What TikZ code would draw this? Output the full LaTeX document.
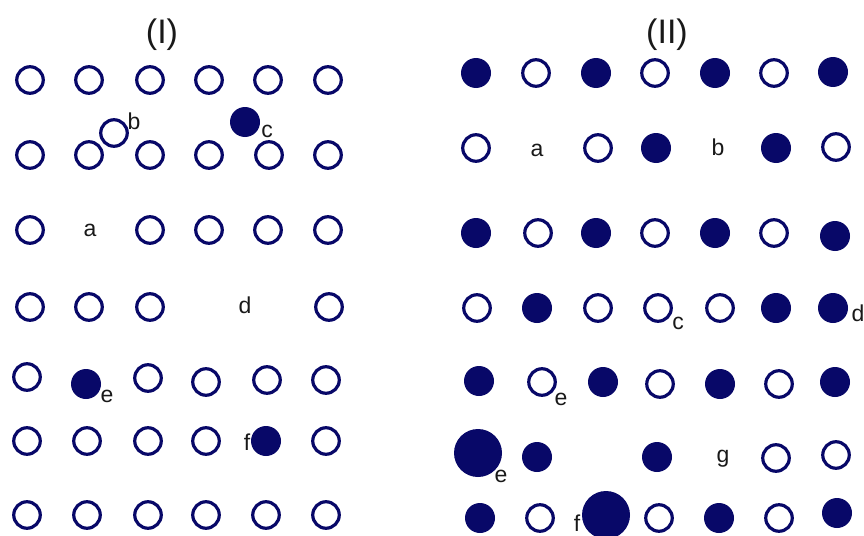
\documentclass[tikz,border=0pt]{standalone}
\usepackage{fontspec}
\setmainfont{Liberation Sans}
\definecolor{navy}{RGB}{8,8,104}
\begin{document}
\begin{tikzpicture}[x=1pt,y=-1pt,
  oc/.style={circle,draw=navy,line width=3.2pt,fill=white,inner sep=0pt,minimum size=26.5pt},
  fc/.style={circle,fill=navy,inner sep=0pt,minimum size=30pt},
  bigc/.style={circle,fill=navy,inner sep=0pt,minimum size=48pt},
  lbl/.style={inner sep=0pt,font=\fontsize{23}{23}\selectfont,text=black!90},
  ttl/.style={inner sep=0pt,font=\fontsize{34}{34}\selectfont,text=black!90}]
\useasboundingbox (0,0) rectangle (864,535);
\fill[white] (0,0) rectangle (864,535);
% ---------- Panel I ----------
\node[ttl] (t1) at (162,35) {(I)};
% row 1
\node[oc] (a11) at (30,80) {};
\node[oc] (a12) at (89,80) {};
\node[oc] (a13) at (150,80) {};
\node[oc] (a14) at (209,80) {};
\node[oc] (a15) at (268,80) {};
\node[oc] (a16) at (328,80) {};
% row 2
\node[oc] (a21) at (30,155) {};
\node[oc] (a22) at (89,155) {};
\node[oc] (a23) at (150,155) {};
\node[oc] (a24) at (209,155) {};
\node[oc] (a25) at (269,155) {};
\node[oc] (a26) at (328,155) {};
\node[oc] (ib) at (114,133) {};
\node[lbl] (lib) at (134,121) {b};
\node[fc] (ic) at (245,122) {};
\node[lbl] (lic) at (267,131) {c};
% row 3
\node[oc] (a31) at (30,230) {};
\node[lbl] (lia) at (90,230) {a};
\node[oc] (a33) at (150,230) {};
\node[oc] (a34) at (209,230) {};
\node[oc] (a35) at (268,230) {};
\node[oc] (a36) at (328,230) {};
% row 4
\node[oc] (a41) at (30,307) {};
\node[oc] (a42) at (89,307) {};
\node[oc] (a43) at (150,307) {};
\node[lbl] (lid) at (245,305) {d};
\node[oc] (a46) at (329,307) {};
% row 5
\node[oc] (a51) at (27,377) {};
\node[fc] (ie) at (86,384) {};
\node[lbl] (lie) at (107,396) {e};
\node[oc] (a53) at (148,378) {};
\node[oc] (a54) at (206,382) {};
\node[oc] (a55) at (267,380) {};
\node[oc] (a56) at (326,380) {};
% row 6
\node[oc] (a61) at (27,441) {};
\node[oc] (a62) at (87,441) {};
\node[oc] (a63) at (148,441) {};
\node[oc] (a64) at (206,441) {};
\node[lbl] (lif) at (247,442) {f};
\node[fc] (if) at (266,441) {};
\node[oc] (a66) at (326,441) {};
% row 7
\node[oc] (a71) at (27,515) {};
\node[oc] (a72) at (87,515) {};
\node[oc] (a73) at (148,515) {};
\node[oc] (a74) at (206,515) {};
\node[oc] (a75) at (266,515) {};
\node[oc] (a76) at (326,515) {};
% ---------- Panel II ----------
\node[ttl] (t2) at (667,35) {(II)};
% row 1
\node[fc] (b11) at (476,73) {};
\node[oc] (b12) at (536,73) {};
\node[fc] (b13) at (596,73) {};
\node[oc] (b14) at (655,73) {};
\node[fc] (b15) at (715,73) {};
\node[oc] (b16) at (774,73) {};
\node[fc] (b17) at (833,72) {};
% row 2
\node[oc] (b21) at (476,148) {};
\node[lbl] (lia2) at (537,150) {a};
\node[oc] (b23) at (598,148) {};
\node[fc] (b24) at (656,148) {};
\node[lbl] (lib2) at (718,147) {b};
\node[fc] (b26) at (776,148) {};
\node[oc] (b27) at (836,147) {};
% row 3
\node[fc] (b31) at (476,233) {};
\node[oc] (b32) at (538,233) {};
\node[fc] (b33) at (596,233) {};
\node[oc] (b34) at (655,233) {};
\node[fc] (b35) at (715,233) {};
\node[oc] (b36) at (774,233) {};
\node[fc] (b37) at (835,236) {};
% row 4
\node[oc] (b41) at (477,308) {};
\node[fc] (b42) at (537,308) {};
\node[oc] (b43) at (598,308) {};
\node[oc] (b44) at (658,308) {};
\node[lbl] (lic2) at (678,323) {c};
\node[oc] (b45) at (720,308) {};
\node[fc] (b46) at (776,308) {};
\node[fc] (b47) at (833,308) {};
\node[lbl] (lid2) at (858,313) {d};
% row 5
\node[fc] (b51) at (479,381) {};
\node[oc] (b52) at (542,382) {};
\node[lbl] (lie2) at (561,399) {e};
\node[fc] (b53) at (603,382) {};
\node[oc] (b54) at (660,384) {};
\node[fc] (b55) at (720,384) {};
\node[oc] (b56) at (779,384) {};
\node[fc] (b57) at (835,382) {};
% row 6
\node[bigc] (b61) at (478,453) {};
\node[lbl] (lie3) at (501,476) {e};
\node[fc] (b62) at (537,457) {};
\node[fc] (b64) at (657,457) {};
\node[lbl] (lig2) at (723,459) {g};
\node[oc] (b66) at (776,458) {};
\node[oc] (b67) at (836,455) {};
% row 7
\node[fc] (b71) at (480,518) {};
\node[oc] (b72) at (540,518) {};
\node[lbl] (lif2) at (577,523) {f};
\node[bigc] (b73) at (606,515) {};
\node[oc] (b74) at (659,518) {};
\node[fc] (b75) at (719,518) {};
\node[oc] (b76) at (779,518) {};
\node[fc] (b77) at (837,513) {};
\end{tikzpicture}
\end{document}
